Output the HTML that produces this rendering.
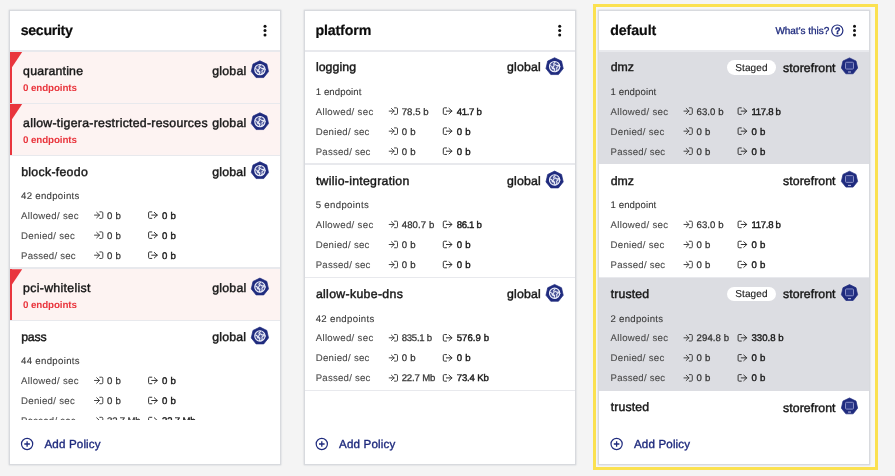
<!DOCTYPE html>
<html><head><meta charset="utf-8"><title>Policies</title>
<style>
*{box-sizing:border-box;margin:0;padding:0}
html,body{width:895px;height:476px;overflow:hidden;background:#f4f4f4;font-family:"Liberation Sans",sans-serif;text-rendering:geometricPrecision}
.t{position:absolute;white-space:nowrap;line-height:20px;height:20px}
.r{position:absolute}
.clip{position:absolute;left:0;top:51px;width:895px;height:369.30px;overflow:hidden}
.clip .in{position:absolute;left:0;top:-51px;width:895px;height:476px}
svg{position:absolute;left:0;top:0}
.gl{will-change:transform}
.top{position:absolute;left:0;top:0;width:895px;height:476px}
</style></head><body>
<div class="r" style="left:593px;top:3.7px;width:285.3px;height:466px;border:3.4px solid #fbe150;background:#f7f7f7"></div>
<div class="r" style="left:10.00px;top:10.70px;width:270.00px;height:453.30px;background:#fff;box-shadow:0 0 0 1.3px #d8dade,0 0 2.5px 1px rgba(40,50,80,.09)"></div>
<div class="r" style="left:10.00px;top:50.20px;width:270.00px;height:1.4px;background:#e8e9ed"></div>
<div class="r" style="left:304.50px;top:10.70px;width:270.00px;height:453.30px;background:#fff;box-shadow:0 0 0 1.3px #d8dade,0 0 2.5px 1px rgba(40,50,80,.09)"></div>
<div class="r" style="left:304.50px;top:50.20px;width:270.00px;height:1.4px;background:#e8e9ed"></div>
<div class="r" style="left:599.00px;top:10.70px;width:270.00px;height:453.30px;background:#fff;box-shadow:0 0 0 1.3px #d8dade,0 0 2.5px 1px rgba(40,50,80,.09)"></div>
<div class="r" style="left:599.00px;top:50.20px;width:270.00px;height:1.4px;background:#e8e9ed"></div>
<div class="clip"><div class="in">
<div class="r" style="left:10.00px;top:51.90px;width:270.00px;height:50.80px;background:#fdf3f2;"></div>
<div class="r" style="left:10.00px;top:102.60px;width:270.00px;height:1.30px;background:#e8e9ed;"></div>
<div class="r" style="left:10.00px;top:51.90px;width:2.00px;height:50.80px;background:#e9353d;"></div>
<div class="r" style="left:10.00px;top:103.90px;width:270.00px;height:50.80px;background:#fdf3f2;"></div>
<div class="r" style="left:10.00px;top:154.60px;width:270.00px;height:1.30px;background:#e8e9ed;"></div>
<div class="r" style="left:10.00px;top:103.90px;width:2.00px;height:50.80px;background:#e9353d;"></div>
<div class="r" style="left:10.00px;top:267.25px;width:270.00px;height:1.40px;background:#e8e9ed;"></div>
<div class="r" style="left:10.00px;top:269.25px;width:270.00px;height:50.80px;background:#fdf3f2;"></div>
<div class="r" style="left:10.00px;top:319.95px;width:270.00px;height:1.30px;background:#e8e9ed;"></div>
<div class="r" style="left:10.00px;top:269.25px;width:2.00px;height:50.80px;background:#e9353d;"></div>
<div class="r" style="left:10.00px;top:432.60px;width:270.00px;height:1.40px;background:#e8e9ed;"></div>
<div class="r" style="left:304.50px;top:163.25px;width:270.00px;height:1.40px;background:#e8e9ed;"></div>
<div class="r" style="left:304.50px;top:276.60px;width:270.00px;height:1.40px;background:#e8e9ed;"></div>
<div class="r" style="left:304.50px;top:389.95px;width:270.00px;height:1.40px;background:#e8e9ed;"></div>
<div class="r" style="left:599.00px;top:51.50px;width:270.00px;height:112.75px;background:#dcdde2;"></div>
<div class="r" style="left:599.00px;top:276.60px;width:270.00px;height:1.40px;background:#e8e9ed;"></div>
<div class="r" style="left:599.00px;top:278.20px;width:270.00px;height:112.75px;background:#dcdde2;"></div>
<div style="position:absolute;left:727.00px;top:59.90px;width:48.6px;height:14.8px;border-radius:7.4px;background:#fff"></div>
<div style="position:absolute;left:727.00px;top:286.60px;width:48.6px;height:14.8px;border-radius:7.4px;background:#fff"></div>
</div></div>
<div class="clip gl"><div class="in">
<svg width="895" height="476" viewBox="0 0 895 476">
<polygon points="10.00,51.90 22.20,51.90 10.00,70.20" fill="#e9353d"/>
<polygon points="259.90,60.75 266.82,64.08 268.53,71.57 263.74,77.57 256.06,77.57 251.27,71.57 252.98,64.08" fill="#1f2b7e" stroke="#1f2b7e" stroke-width="0.7" stroke-linejoin="round"/><circle cx="259.90" cy="69.60" r="5.15" fill="rgba(255,255,255,0.18)" stroke="#eef0fa" stroke-width="1.1"/><path d="M260.50 65.00 l-1.6 1.8 l0.6 1.6 l-1.4 2.0 l1.8 1.4 l-0.4 2.4 M260.30 67.40 l1.8 1.2 l2.0 -0.4 l1.2 1.6 M263.50 69.40 l-1.6 1.4 l0.4 2.2 l-1.4 1.6 M255.50 68.60 l1.6 0.8 l0.6 2.0 l1.6 0.6" fill="none" stroke="#e6e9f7" stroke-width="1.05" stroke-linecap="round" stroke-linejoin="round"/>
<polygon points="10.00,103.90 22.20,103.90 10.00,122.20" fill="#e9353d"/>
<polygon points="259.90,112.75 266.82,116.08 268.53,123.57 263.74,129.57 256.06,129.57 251.27,123.57 252.98,116.08" fill="#1f2b7e" stroke="#1f2b7e" stroke-width="0.7" stroke-linejoin="round"/><circle cx="259.90" cy="121.60" r="5.15" fill="rgba(255,255,255,0.18)" stroke="#eef0fa" stroke-width="1.1"/><path d="M260.50 117.00 l-1.6 1.8 l0.6 1.6 l-1.4 2.0 l1.8 1.4 l-0.4 2.4 M260.30 119.40 l1.8 1.2 l2.0 -0.4 l1.2 1.6 M263.50 121.40 l-1.6 1.4 l0.4 2.2 l-1.4 1.6 M255.50 120.60 l1.6 0.8 l0.6 2.0 l1.6 0.6" fill="none" stroke="#e6e9f7" stroke-width="1.05" stroke-linecap="round" stroke-linejoin="round"/>
<polygon points="259.90,161.75 266.82,165.08 268.53,172.57 263.74,178.57 256.06,178.57 251.27,172.57 252.98,165.08" fill="#1f2b7e" stroke="#1f2b7e" stroke-width="0.7" stroke-linejoin="round"/><circle cx="259.90" cy="170.60" r="5.15" fill="rgba(255,255,255,0.18)" stroke="#eef0fa" stroke-width="1.1"/><path d="M260.50 166.00 l-1.6 1.8 l0.6 1.6 l-1.4 2.0 l1.8 1.4 l-0.4 2.4 M260.30 168.40 l1.8 1.2 l2.0 -0.4 l1.2 1.6 M263.50 170.40 l-1.6 1.4 l0.4 2.2 l-1.4 1.6 M255.50 169.60 l1.6 0.8 l0.6 2.0 l1.6 0.6" fill="none" stroke="#e6e9f7" stroke-width="1.05" stroke-linecap="round" stroke-linejoin="round"/>
<path d="M94.50 215.10 h5.0 M96.70 212.40 l2.8 2.7 l-2.8 2.7 M99.80 211.85 h2.0 q1 0 1 1 v4.5 q0 1 -1 1 h-2.0" fill="none" stroke="#444" stroke-width="1" stroke-linecap="round" stroke-linejoin="round"/>
<path d="M151.80 211.85 h-2.2 q-1 0 -1 1 v4.5 q0 1 1 1 h2.2 M151.70 215.10 h5.5 M154.30 212.35 l3.0 2.75 l-3.0 2.75" fill="none" stroke="#333" stroke-width="1" stroke-linecap="round" stroke-linejoin="round"/>
<path d="M94.50 235.15 h5.0 M96.70 232.45 l2.8 2.7 l-2.8 2.7 M99.80 231.90 h2.0 q1 0 1 1 v4.5 q0 1 -1 1 h-2.0" fill="none" stroke="#444" stroke-width="1" stroke-linecap="round" stroke-linejoin="round"/>
<path d="M151.80 231.90 h-2.2 q-1 0 -1 1 v4.5 q0 1 1 1 h2.2 M151.70 235.15 h5.5 M154.30 232.40 l3.0 2.75 l-3.0 2.75" fill="none" stroke="#333" stroke-width="1" stroke-linecap="round" stroke-linejoin="round"/>
<path d="M94.50 255.20 h5.0 M96.70 252.50 l2.8 2.7 l-2.8 2.7 M99.80 251.95 h2.0 q1 0 1 1 v4.5 q0 1 -1 1 h-2.0" fill="none" stroke="#444" stroke-width="1" stroke-linecap="round" stroke-linejoin="round"/>
<path d="M151.80 251.95 h-2.2 q-1 0 -1 1 v4.5 q0 1 1 1 h2.2 M151.70 255.20 h5.5 M154.30 252.45 l3.0 2.75 l-3.0 2.75" fill="none" stroke="#333" stroke-width="1" stroke-linecap="round" stroke-linejoin="round"/>
<polygon points="10.00,269.25 22.20,269.25 10.00,287.55" fill="#e9353d"/>
<polygon points="259.90,278.10 266.82,281.43 268.53,288.92 263.74,294.92 256.06,294.92 251.27,288.92 252.98,281.43" fill="#1f2b7e" stroke="#1f2b7e" stroke-width="0.7" stroke-linejoin="round"/><circle cx="259.90" cy="286.95" r="5.15" fill="rgba(255,255,255,0.18)" stroke="#eef0fa" stroke-width="1.1"/><path d="M260.50 282.35 l-1.6 1.8 l0.6 1.6 l-1.4 2.0 l1.8 1.4 l-0.4 2.4 M260.30 284.75 l1.8 1.2 l2.0 -0.4 l1.2 1.6 M263.50 286.75 l-1.6 1.4 l0.4 2.2 l-1.4 1.6 M255.50 285.95 l1.6 0.8 l0.6 2.0 l1.6 0.6" fill="none" stroke="#e6e9f7" stroke-width="1.05" stroke-linecap="round" stroke-linejoin="round"/>
<polygon points="259.90,327.10 266.82,330.43 268.53,337.92 263.74,343.92 256.06,343.92 251.27,337.92 252.98,330.43" fill="#1f2b7e" stroke="#1f2b7e" stroke-width="0.7" stroke-linejoin="round"/><circle cx="259.90" cy="335.95" r="5.15" fill="rgba(255,255,255,0.18)" stroke="#eef0fa" stroke-width="1.1"/><path d="M260.50 331.35 l-1.6 1.8 l0.6 1.6 l-1.4 2.0 l1.8 1.4 l-0.4 2.4 M260.30 333.75 l1.8 1.2 l2.0 -0.4 l1.2 1.6 M263.50 335.75 l-1.6 1.4 l0.4 2.2 l-1.4 1.6 M255.50 334.95 l1.6 0.8 l0.6 2.0 l1.6 0.6" fill="none" stroke="#e6e9f7" stroke-width="1.05" stroke-linecap="round" stroke-linejoin="round"/>
<path d="M94.50 380.45 h5.0 M96.70 377.75 l2.8 2.7 l-2.8 2.7 M99.80 377.20 h2.0 q1 0 1 1 v4.5 q0 1 -1 1 h-2.0" fill="none" stroke="#444" stroke-width="1" stroke-linecap="round" stroke-linejoin="round"/>
<path d="M151.80 377.20 h-2.2 q-1 0 -1 1 v4.5 q0 1 1 1 h2.2 M151.70 380.45 h5.5 M154.30 377.70 l3.0 2.75 l-3.0 2.75" fill="none" stroke="#333" stroke-width="1" stroke-linecap="round" stroke-linejoin="round"/>
<path d="M94.50 400.50 h5.0 M96.70 397.80 l2.8 2.7 l-2.8 2.7 M99.80 397.25 h2.0 q1 0 1 1 v4.5 q0 1 -1 1 h-2.0" fill="none" stroke="#444" stroke-width="1" stroke-linecap="round" stroke-linejoin="round"/>
<path d="M151.80 397.25 h-2.2 q-1 0 -1 1 v4.5 q0 1 1 1 h2.2 M151.70 400.50 h5.5 M154.30 397.75 l3.0 2.75 l-3.0 2.75" fill="none" stroke="#333" stroke-width="1" stroke-linecap="round" stroke-linejoin="round"/>
<path d="M94.50 420.55 h5.0 M96.70 417.85 l2.8 2.7 l-2.8 2.7 M99.80 417.30 h2.0 q1 0 1 1 v4.5 q0 1 -1 1 h-2.0" fill="none" stroke="#444" stroke-width="1" stroke-linecap="round" stroke-linejoin="round"/>
<path d="M151.80 417.30 h-2.2 q-1 0 -1 1 v4.5 q0 1 1 1 h2.2 M151.70 420.55 h5.5 M154.30 417.80 l3.0 2.75 l-3.0 2.75" fill="none" stroke="#333" stroke-width="1" stroke-linecap="round" stroke-linejoin="round"/>
<polygon points="554.60,57.75 561.52,61.08 563.23,68.57 558.44,74.57 550.76,74.57 545.97,68.57 547.68,61.08" fill="#1f2b7e" stroke="#1f2b7e" stroke-width="0.7" stroke-linejoin="round"/><circle cx="554.60" cy="66.60" r="5.15" fill="rgba(255,255,255,0.18)" stroke="#eef0fa" stroke-width="1.1"/><path d="M555.20 62.00 l-1.6 1.8 l0.6 1.6 l-1.4 2.0 l1.8 1.4 l-0.4 2.4 M555.00 64.40 l1.8 1.2 l2.0 -0.4 l1.2 1.6 M558.20 66.40 l-1.6 1.4 l0.4 2.2 l-1.4 1.6 M550.20 65.60 l1.6 0.8 l0.6 2.0 l1.6 0.6" fill="none" stroke="#e6e9f7" stroke-width="1.05" stroke-linecap="round" stroke-linejoin="round"/>
<path d="M389.20 111.10 h5.0 M391.40 108.40 l2.8 2.7 l-2.8 2.7 M394.50 107.85 h2.0 q1 0 1 1 v4.5 q0 1 -1 1 h-2.0" fill="none" stroke="#444" stroke-width="1" stroke-linecap="round" stroke-linejoin="round"/>
<path d="M446.50 107.85 h-2.2 q-1 0 -1 1 v4.5 q0 1 1 1 h2.2 M446.40 111.10 h5.5 M449.00 108.35 l3.0 2.75 l-3.0 2.75" fill="none" stroke="#333" stroke-width="1" stroke-linecap="round" stroke-linejoin="round"/>
<path d="M389.20 131.15 h5.0 M391.40 128.45 l2.8 2.7 l-2.8 2.7 M394.50 127.90 h2.0 q1 0 1 1 v4.5 q0 1 -1 1 h-2.0" fill="none" stroke="#444" stroke-width="1" stroke-linecap="round" stroke-linejoin="round"/>
<path d="M446.50 127.90 h-2.2 q-1 0 -1 1 v4.5 q0 1 1 1 h2.2 M446.40 131.15 h5.5 M449.00 128.40 l3.0 2.75 l-3.0 2.75" fill="none" stroke="#333" stroke-width="1" stroke-linecap="round" stroke-linejoin="round"/>
<path d="M389.20 151.20 h5.0 M391.40 148.50 l2.8 2.7 l-2.8 2.7 M394.50 147.95 h2.0 q1 0 1 1 v4.5 q0 1 -1 1 h-2.0" fill="none" stroke="#444" stroke-width="1" stroke-linecap="round" stroke-linejoin="round"/>
<path d="M446.50 147.95 h-2.2 q-1 0 -1 1 v4.5 q0 1 1 1 h2.2 M446.40 151.20 h5.5 M449.00 148.45 l3.0 2.75 l-3.0 2.75" fill="none" stroke="#333" stroke-width="1" stroke-linecap="round" stroke-linejoin="round"/>
<polygon points="554.60,171.10 561.52,174.43 563.23,181.92 558.44,187.92 550.76,187.92 545.97,181.92 547.68,174.43" fill="#1f2b7e" stroke="#1f2b7e" stroke-width="0.7" stroke-linejoin="round"/><circle cx="554.60" cy="179.95" r="5.15" fill="rgba(255,255,255,0.18)" stroke="#eef0fa" stroke-width="1.1"/><path d="M555.20 175.35 l-1.6 1.8 l0.6 1.6 l-1.4 2.0 l1.8 1.4 l-0.4 2.4 M555.00 177.75 l1.8 1.2 l2.0 -0.4 l1.2 1.6 M558.20 179.75 l-1.6 1.4 l0.4 2.2 l-1.4 1.6 M550.20 178.95 l1.6 0.8 l0.6 2.0 l1.6 0.6" fill="none" stroke="#e6e9f7" stroke-width="1.05" stroke-linecap="round" stroke-linejoin="round"/>
<path d="M389.20 224.45 h5.0 M391.40 221.75 l2.8 2.7 l-2.8 2.7 M394.50 221.20 h2.0 q1 0 1 1 v4.5 q0 1 -1 1 h-2.0" fill="none" stroke="#444" stroke-width="1" stroke-linecap="round" stroke-linejoin="round"/>
<path d="M446.50 221.20 h-2.2 q-1 0 -1 1 v4.5 q0 1 1 1 h2.2 M446.40 224.45 h5.5 M449.00 221.70 l3.0 2.75 l-3.0 2.75" fill="none" stroke="#333" stroke-width="1" stroke-linecap="round" stroke-linejoin="round"/>
<path d="M389.20 244.50 h5.0 M391.40 241.80 l2.8 2.7 l-2.8 2.7 M394.50 241.25 h2.0 q1 0 1 1 v4.5 q0 1 -1 1 h-2.0" fill="none" stroke="#444" stroke-width="1" stroke-linecap="round" stroke-linejoin="round"/>
<path d="M446.50 241.25 h-2.2 q-1 0 -1 1 v4.5 q0 1 1 1 h2.2 M446.40 244.50 h5.5 M449.00 241.75 l3.0 2.75 l-3.0 2.75" fill="none" stroke="#333" stroke-width="1" stroke-linecap="round" stroke-linejoin="round"/>
<path d="M389.20 264.55 h5.0 M391.40 261.85 l2.8 2.7 l-2.8 2.7 M394.50 261.30 h2.0 q1 0 1 1 v4.5 q0 1 -1 1 h-2.0" fill="none" stroke="#444" stroke-width="1" stroke-linecap="round" stroke-linejoin="round"/>
<path d="M446.50 261.30 h-2.2 q-1 0 -1 1 v4.5 q0 1 1 1 h2.2 M446.40 264.55 h5.5 M449.00 261.80 l3.0 2.75 l-3.0 2.75" fill="none" stroke="#333" stroke-width="1" stroke-linecap="round" stroke-linejoin="round"/>
<polygon points="554.60,284.45 561.52,287.78 563.23,295.27 558.44,301.27 550.76,301.27 545.97,295.27 547.68,287.78" fill="#1f2b7e" stroke="#1f2b7e" stroke-width="0.7" stroke-linejoin="round"/><circle cx="554.60" cy="293.30" r="5.15" fill="rgba(255,255,255,0.18)" stroke="#eef0fa" stroke-width="1.1"/><path d="M555.20 288.70 l-1.6 1.8 l0.6 1.6 l-1.4 2.0 l1.8 1.4 l-0.4 2.4 M555.00 291.10 l1.8 1.2 l2.0 -0.4 l1.2 1.6 M558.20 293.10 l-1.6 1.4 l0.4 2.2 l-1.4 1.6 M550.20 292.30 l1.6 0.8 l0.6 2.0 l1.6 0.6" fill="none" stroke="#e6e9f7" stroke-width="1.05" stroke-linecap="round" stroke-linejoin="round"/>
<path d="M389.20 337.80 h5.0 M391.40 335.10 l2.8 2.7 l-2.8 2.7 M394.50 334.55 h2.0 q1 0 1 1 v4.5 q0 1 -1 1 h-2.0" fill="none" stroke="#444" stroke-width="1" stroke-linecap="round" stroke-linejoin="round"/>
<path d="M446.50 334.55 h-2.2 q-1 0 -1 1 v4.5 q0 1 1 1 h2.2 M446.40 337.80 h5.5 M449.00 335.05 l3.0 2.75 l-3.0 2.75" fill="none" stroke="#333" stroke-width="1" stroke-linecap="round" stroke-linejoin="round"/>
<path d="M389.20 357.85 h5.0 M391.40 355.15 l2.8 2.7 l-2.8 2.7 M394.50 354.60 h2.0 q1 0 1 1 v4.5 q0 1 -1 1 h-2.0" fill="none" stroke="#444" stroke-width="1" stroke-linecap="round" stroke-linejoin="round"/>
<path d="M446.50 354.60 h-2.2 q-1 0 -1 1 v4.5 q0 1 1 1 h2.2 M446.40 357.85 h5.5 M449.00 355.10 l3.0 2.75 l-3.0 2.75" fill="none" stroke="#333" stroke-width="1" stroke-linecap="round" stroke-linejoin="round"/>
<path d="M389.20 377.90 h5.0 M391.40 375.20 l2.8 2.7 l-2.8 2.7 M394.50 374.65 h2.0 q1 0 1 1 v4.5 q0 1 -1 1 h-2.0" fill="none" stroke="#444" stroke-width="1" stroke-linecap="round" stroke-linejoin="round"/>
<path d="M446.50 374.65 h-2.2 q-1 0 -1 1 v4.5 q0 1 1 1 h2.2 M446.40 377.90 h5.5 M449.00 375.15 l3.0 2.75 l-3.0 2.75" fill="none" stroke="#333" stroke-width="1" stroke-linecap="round" stroke-linejoin="round"/>
<polygon points="849.50,57.90 856.03,61.04 857.64,68.11 853.12,73.77 845.88,73.77 841.36,68.11 842.97,61.04" fill="#1f2b7e" stroke="#1f2b7e" stroke-width="0.7" stroke-linejoin="round"/><rect x="845.50" y="62.25" width="8" height="6.8" rx="1" fill="#2c398a" stroke="#8a90c6" stroke-width="1"/><rect x="848.00" y="71.55" width="3" height="0.9" fill="#cfd3ee"/>
<path d="M684.00 111.10 h5.0 M686.20 108.40 l2.8 2.7 l-2.8 2.7 M689.30 107.85 h2.0 q1 0 1 1 v4.5 q0 1 -1 1 h-2.0" fill="none" stroke="#444" stroke-width="1" stroke-linecap="round" stroke-linejoin="round"/>
<path d="M741.30 107.85 h-2.2 q-1 0 -1 1 v4.5 q0 1 1 1 h2.2 M741.20 111.10 h5.5 M743.80 108.35 l3.0 2.75 l-3.0 2.75" fill="none" stroke="#333" stroke-width="1" stroke-linecap="round" stroke-linejoin="round"/>
<path d="M684.00 131.15 h5.0 M686.20 128.45 l2.8 2.7 l-2.8 2.7 M689.30 127.90 h2.0 q1 0 1 1 v4.5 q0 1 -1 1 h-2.0" fill="none" stroke="#444" stroke-width="1" stroke-linecap="round" stroke-linejoin="round"/>
<path d="M741.30 127.90 h-2.2 q-1 0 -1 1 v4.5 q0 1 1 1 h2.2 M741.20 131.15 h5.5 M743.80 128.40 l3.0 2.75 l-3.0 2.75" fill="none" stroke="#333" stroke-width="1" stroke-linecap="round" stroke-linejoin="round"/>
<path d="M684.00 151.20 h5.0 M686.20 148.50 l2.8 2.7 l-2.8 2.7 M689.30 147.95 h2.0 q1 0 1 1 v4.5 q0 1 -1 1 h-2.0" fill="none" stroke="#444" stroke-width="1" stroke-linecap="round" stroke-linejoin="round"/>
<path d="M741.30 147.95 h-2.2 q-1 0 -1 1 v4.5 q0 1 1 1 h2.2 M741.20 151.20 h5.5 M743.80 148.45 l3.0 2.75 l-3.0 2.75" fill="none" stroke="#333" stroke-width="1" stroke-linecap="round" stroke-linejoin="round"/>
<polygon points="849.50,171.25 856.03,174.39 857.64,181.46 853.12,187.12 845.88,187.12 841.36,181.46 842.97,174.39" fill="#1f2b7e" stroke="#1f2b7e" stroke-width="0.7" stroke-linejoin="round"/><rect x="845.50" y="175.60" width="8" height="6.8" rx="1" fill="#2c398a" stroke="#8a90c6" stroke-width="1"/><rect x="848.00" y="184.90" width="3" height="0.9" fill="#cfd3ee"/>
<path d="M684.00 224.45 h5.0 M686.20 221.75 l2.8 2.7 l-2.8 2.7 M689.30 221.20 h2.0 q1 0 1 1 v4.5 q0 1 -1 1 h-2.0" fill="none" stroke="#444" stroke-width="1" stroke-linecap="round" stroke-linejoin="round"/>
<path d="M741.30 221.20 h-2.2 q-1 0 -1 1 v4.5 q0 1 1 1 h2.2 M741.20 224.45 h5.5 M743.80 221.70 l3.0 2.75 l-3.0 2.75" fill="none" stroke="#333" stroke-width="1" stroke-linecap="round" stroke-linejoin="round"/>
<path d="M684.00 244.50 h5.0 M686.20 241.80 l2.8 2.7 l-2.8 2.7 M689.30 241.25 h2.0 q1 0 1 1 v4.5 q0 1 -1 1 h-2.0" fill="none" stroke="#444" stroke-width="1" stroke-linecap="round" stroke-linejoin="round"/>
<path d="M741.30 241.25 h-2.2 q-1 0 -1 1 v4.5 q0 1 1 1 h2.2 M741.20 244.50 h5.5 M743.80 241.75 l3.0 2.75 l-3.0 2.75" fill="none" stroke="#333" stroke-width="1" stroke-linecap="round" stroke-linejoin="round"/>
<path d="M684.00 264.55 h5.0 M686.20 261.85 l2.8 2.7 l-2.8 2.7 M689.30 261.30 h2.0 q1 0 1 1 v4.5 q0 1 -1 1 h-2.0" fill="none" stroke="#444" stroke-width="1" stroke-linecap="round" stroke-linejoin="round"/>
<path d="M741.30 261.30 h-2.2 q-1 0 -1 1 v4.5 q0 1 1 1 h2.2 M741.20 264.55 h5.5 M743.80 261.80 l3.0 2.75 l-3.0 2.75" fill="none" stroke="#333" stroke-width="1" stroke-linecap="round" stroke-linejoin="round"/>
<polygon points="849.50,284.60 856.03,287.74 857.64,294.81 853.12,300.47 845.88,300.47 841.36,294.81 842.97,287.74" fill="#1f2b7e" stroke="#1f2b7e" stroke-width="0.7" stroke-linejoin="round"/><rect x="845.50" y="288.95" width="8" height="6.8" rx="1" fill="#2c398a" stroke="#8a90c6" stroke-width="1"/><rect x="848.00" y="298.25" width="3" height="0.9" fill="#cfd3ee"/>
<path d="M684.00 337.80 h5.0 M686.20 335.10 l2.8 2.7 l-2.8 2.7 M689.30 334.55 h2.0 q1 0 1 1 v4.5 q0 1 -1 1 h-2.0" fill="none" stroke="#444" stroke-width="1" stroke-linecap="round" stroke-linejoin="round"/>
<path d="M741.30 334.55 h-2.2 q-1 0 -1 1 v4.5 q0 1 1 1 h2.2 M741.20 337.80 h5.5 M743.80 335.05 l3.0 2.75 l-3.0 2.75" fill="none" stroke="#333" stroke-width="1" stroke-linecap="round" stroke-linejoin="round"/>
<path d="M684.00 357.85 h5.0 M686.20 355.15 l2.8 2.7 l-2.8 2.7 M689.30 354.60 h2.0 q1 0 1 1 v4.5 q0 1 -1 1 h-2.0" fill="none" stroke="#444" stroke-width="1" stroke-linecap="round" stroke-linejoin="round"/>
<path d="M741.30 354.60 h-2.2 q-1 0 -1 1 v4.5 q0 1 1 1 h2.2 M741.20 357.85 h5.5 M743.80 355.10 l3.0 2.75 l-3.0 2.75" fill="none" stroke="#333" stroke-width="1" stroke-linecap="round" stroke-linejoin="round"/>
<path d="M684.00 377.90 h5.0 M686.20 375.20 l2.8 2.7 l-2.8 2.7 M689.30 374.65 h2.0 q1 0 1 1 v4.5 q0 1 -1 1 h-2.0" fill="none" stroke="#444" stroke-width="1" stroke-linecap="round" stroke-linejoin="round"/>
<path d="M741.30 374.65 h-2.2 q-1 0 -1 1 v4.5 q0 1 1 1 h2.2 M741.20 377.90 h5.5 M743.80 375.15 l3.0 2.75 l-3.0 2.75" fill="none" stroke="#333" stroke-width="1" stroke-linecap="round" stroke-linejoin="round"/>
<polygon points="849.50,397.95 856.03,401.09 857.64,408.16 853.12,413.82 845.88,413.82 841.36,408.16 842.97,401.09" fill="#1f2b7e" stroke="#1f2b7e" stroke-width="0.7" stroke-linejoin="round"/><rect x="845.50" y="402.30" width="8" height="6.8" rx="1" fill="#2c398a" stroke="#8a90c6" stroke-width="1"/><rect x="848.00" y="411.60" width="3" height="0.9" fill="#cfd3ee"/>
</svg>
<span class="t" id="t0" style="left:23.10px;top:61.00px;font-size:12.30px;color:#151515;-webkit-text-stroke:0.40px #151515;letter-spacing:0.197px;">quarantine</span>
<span class="t" id="t1" style="left:212.30px;top:61.00px;font-size:12.30px;color:#151515;-webkit-text-stroke:0.40px #151515;letter-spacing:0.213px;">global</span>
<span class="t" id="t2" style="left:23.10px;top:79.00px;font-size:9.80px;color:#e9353d;font-weight:bold;letter-spacing:-0.113px;">0 endpoints</span>
<span class="t" id="t3" style="left:23.10px;top:113.00px;font-size:12.30px;color:#151515;-webkit-text-stroke:0.40px #151515;letter-spacing:0.276px;">allow-tigera-restricted-resources</span>
<span class="t" id="t4" style="left:212.30px;top:113.00px;font-size:12.30px;color:#151515;-webkit-text-stroke:0.40px #151515;letter-spacing:0.213px;">global</span>
<span class="t" id="t5" style="left:23.10px;top:131.00px;font-size:9.80px;color:#e9353d;font-weight:bold;letter-spacing:-0.113px;">0 endpoints</span>
<span class="t" id="t6" style="left:21.20px;top:162.00px;font-size:12.30px;color:#151515;-webkit-text-stroke:0.40px #151515;letter-spacing:0.297px;">block-feodo</span>
<span class="t" id="t7" style="left:212.20px;top:162.00px;font-size:12.30px;color:#151515;-webkit-text-stroke:0.40px #151515;letter-spacing:0.213px;">global</span>
<span class="t" id="t8" style="left:21.00px;top:187.00px;font-size:9.60px;color:#3a3a3a;-webkit-text-stroke:0.10px #3a3a3a;letter-spacing:0.308px;">42 endpoints</span>
<span class="t" id="t9" style="left:21.00px;top:207.00px;font-size:9.60px;color:#4a4a4a;-webkit-text-stroke:0.10px #4a4a4a;letter-spacing:0.334px;">Allowed/ sec</span>
<span class="t" id="t10" style="left:107.00px;top:207.00px;font-size:9.60px;color:#333;-webkit-text-stroke:0.25px #333;letter-spacing:0.263px;">0 b</span>
<span class="t" id="t11" style="left:162.00px;top:207.00px;font-size:9.60px;color:#1a1a1a;-webkit-text-stroke:0.40px #1a1a1a;letter-spacing:0.223px;">0 b</span>
<span class="t" id="t12" style="left:21.00px;top:227.00px;font-size:9.60px;color:#4a4a4a;-webkit-text-stroke:0.10px #4a4a4a;letter-spacing:0.307px;">Denied/ sec</span>
<span class="t" id="t13" style="left:107.00px;top:227.00px;font-size:9.60px;color:#333;-webkit-text-stroke:0.25px #333;letter-spacing:0.263px;">0 b</span>
<span class="t" id="t14" style="left:162.00px;top:227.00px;font-size:9.60px;color:#1a1a1a;-webkit-text-stroke:0.40px #1a1a1a;letter-spacing:0.223px;">0 b</span>
<span class="t" id="t15" style="left:21.00px;top:247.00px;font-size:9.60px;color:#4a4a4a;-webkit-text-stroke:0.10px #4a4a4a;letter-spacing:0.241px;">Passed/ sec</span>
<span class="t" id="t16" style="left:107.00px;top:247.00px;font-size:9.60px;color:#333;-webkit-text-stroke:0.25px #333;letter-spacing:0.263px;">0 b</span>
<span class="t" id="t17" style="left:162.00px;top:247.00px;font-size:9.60px;color:#1a1a1a;-webkit-text-stroke:0.40px #1a1a1a;letter-spacing:0.223px;">0 b</span>
<span class="t" id="t18" style="left:23.10px;top:278.00px;font-size:12.30px;color:#151515;-webkit-text-stroke:0.40px #151515;letter-spacing:0.307px;">pci-whitelist</span>
<span class="t" id="t19" style="left:212.30px;top:278.00px;font-size:12.30px;color:#151515;-webkit-text-stroke:0.40px #151515;letter-spacing:0.213px;">global</span>
<span class="t" id="t20" style="left:23.10px;top:296.00px;font-size:9.80px;color:#e9353d;font-weight:bold;letter-spacing:-0.113px;">0 endpoints</span>
<span class="t" id="t21" style="left:21.20px;top:327.00px;font-size:12.30px;color:#151515;-webkit-text-stroke:0.40px #151515;letter-spacing:-0.196px;">pass</span>
<span class="t" id="t22" style="left:212.20px;top:327.00px;font-size:12.30px;color:#151515;-webkit-text-stroke:0.40px #151515;letter-spacing:0.213px;">global</span>
<span class="t" id="t23" style="left:21.00px;top:352.00px;font-size:9.60px;color:#3a3a3a;-webkit-text-stroke:0.10px #3a3a3a;letter-spacing:0.335px;">44 endpoints</span>
<span class="t" id="t24" style="left:21.00px;top:372.00px;font-size:9.60px;color:#4a4a4a;-webkit-text-stroke:0.10px #4a4a4a;letter-spacing:0.334px;">Allowed/ sec</span>
<span class="t" id="t25" style="left:107.00px;top:372.00px;font-size:9.60px;color:#333;-webkit-text-stroke:0.25px #333;letter-spacing:0.263px;">0 b</span>
<span class="t" id="t26" style="left:162.00px;top:372.00px;font-size:9.60px;color:#1a1a1a;-webkit-text-stroke:0.40px #1a1a1a;letter-spacing:0.223px;">0 b</span>
<span class="t" id="t27" style="left:21.00px;top:392.00px;font-size:9.60px;color:#4a4a4a;-webkit-text-stroke:0.10px #4a4a4a;letter-spacing:0.307px;">Denied/ sec</span>
<span class="t" id="t28" style="left:107.00px;top:392.00px;font-size:9.60px;color:#333;-webkit-text-stroke:0.25px #333;letter-spacing:0.263px;">0 b</span>
<span class="t" id="t29" style="left:162.00px;top:392.00px;font-size:9.60px;color:#1a1a1a;-webkit-text-stroke:0.40px #1a1a1a;letter-spacing:0.223px;">0 b</span>
<span class="t" id="t30" style="left:21.00px;top:412.00px;font-size:9.60px;color:#4a4a4a;-webkit-text-stroke:0.10px #4a4a4a;letter-spacing:0.241px;">Passed/ sec</span>
<span class="t" id="t31" style="left:107.00px;top:412.00px;font-size:9.60px;color:#333;-webkit-text-stroke:0.25px #333;letter-spacing:-0.165px;">22.7 Mb</span>
<span class="t" id="t32" style="left:162.00px;top:412.00px;font-size:9.60px;color:#1a1a1a;-webkit-text-stroke:0.40px #1a1a1a;letter-spacing:-0.165px;">22.7 Mb</span>
<span class="t" id="t33" style="left:315.90px;top:57.00px;font-size:12.30px;color:#151515;-webkit-text-stroke:0.40px #151515;letter-spacing:0.081px;">logging</span>
<span class="t" id="t34" style="left:506.90px;top:57.00px;font-size:12.30px;color:#151515;-webkit-text-stroke:0.40px #151515;letter-spacing:0.213px;">global</span>
<span class="t" id="t35" style="left:315.70px;top:83.00px;font-size:9.60px;color:#3a3a3a;-webkit-text-stroke:0.10px #3a3a3a;letter-spacing:0.104px;">1 endpoint</span>
<span class="t" id="t36" style="left:315.70px;top:103.00px;font-size:9.60px;color:#4a4a4a;-webkit-text-stroke:0.10px #4a4a4a;letter-spacing:0.334px;">Allowed/ sec</span>
<span class="t" id="t37" style="left:401.70px;top:103.00px;font-size:9.60px;color:#333;-webkit-text-stroke:0.25px #333;letter-spacing:0.039px;">78.5 b</span>
<span class="t" id="t38" style="left:456.70px;top:103.00px;font-size:9.60px;color:#1a1a1a;-webkit-text-stroke:0.40px #1a1a1a;letter-spacing:-0.320px;">41.7 b</span>
<span class="t" id="t39" style="left:315.70px;top:123.00px;font-size:9.60px;color:#4a4a4a;-webkit-text-stroke:0.10px #4a4a4a;letter-spacing:0.307px;">Denied/ sec</span>
<span class="t" id="t40" style="left:401.70px;top:123.00px;font-size:9.60px;color:#333;-webkit-text-stroke:0.25px #333;letter-spacing:0.263px;">0 b</span>
<span class="t" id="t41" style="left:456.70px;top:123.00px;font-size:9.60px;color:#1a1a1a;-webkit-text-stroke:0.40px #1a1a1a;letter-spacing:0.223px;">0 b</span>
<span class="t" id="t42" style="left:315.70px;top:143.00px;font-size:9.60px;color:#4a4a4a;-webkit-text-stroke:0.10px #4a4a4a;letter-spacing:0.241px;">Passed/ sec</span>
<span class="t" id="t43" style="left:401.70px;top:143.00px;font-size:9.60px;color:#333;-webkit-text-stroke:0.25px #333;letter-spacing:0.263px;">0 b</span>
<span class="t" id="t44" style="left:456.70px;top:143.00px;font-size:9.60px;color:#1a1a1a;-webkit-text-stroke:0.40px #1a1a1a;letter-spacing:0.223px;">0 b</span>
<span class="t" id="t45" style="left:315.90px;top:171.00px;font-size:12.30px;color:#151515;-webkit-text-stroke:0.40px #151515;letter-spacing:0.265px;">twilio-integration</span>
<span class="t" id="t46" style="left:506.90px;top:171.00px;font-size:12.30px;color:#151515;-webkit-text-stroke:0.40px #151515;letter-spacing:0.213px;">global</span>
<span class="t" id="t47" style="left:315.70px;top:196.00px;font-size:9.60px;color:#3a3a3a;-webkit-text-stroke:0.10px #3a3a3a;letter-spacing:0.342px;">5 endpoints</span>
<span class="t" id="t48" style="left:315.70px;top:216.00px;font-size:9.60px;color:#4a4a4a;-webkit-text-stroke:0.10px #4a4a4a;letter-spacing:0.334px;">Allowed/ sec</span>
<span class="t" id="t49" style="left:401.70px;top:216.00px;font-size:9.60px;color:#333;-webkit-text-stroke:0.25px #333;letter-spacing:0.105px;">480.7 b</span>
<span class="t" id="t50" style="left:456.70px;top:216.00px;font-size:9.60px;color:#1a1a1a;-webkit-text-stroke:0.40px #1a1a1a;letter-spacing:-0.307px;">86.1 b</span>
<span class="t" id="t51" style="left:315.70px;top:236.00px;font-size:9.60px;color:#4a4a4a;-webkit-text-stroke:0.10px #4a4a4a;letter-spacing:0.307px;">Denied/ sec</span>
<span class="t" id="t52" style="left:401.70px;top:236.00px;font-size:9.60px;color:#333;-webkit-text-stroke:0.25px #333;letter-spacing:0.263px;">0 b</span>
<span class="t" id="t53" style="left:456.70px;top:236.00px;font-size:9.60px;color:#1a1a1a;-webkit-text-stroke:0.40px #1a1a1a;letter-spacing:0.223px;">0 b</span>
<span class="t" id="t54" style="left:315.70px;top:256.00px;font-size:9.60px;color:#4a4a4a;-webkit-text-stroke:0.10px #4a4a4a;letter-spacing:0.241px;">Passed/ sec</span>
<span class="t" id="t55" style="left:401.70px;top:256.00px;font-size:9.60px;color:#333;-webkit-text-stroke:0.25px #333;letter-spacing:0.263px;">0 b</span>
<span class="t" id="t56" style="left:456.70px;top:256.00px;font-size:9.60px;color:#1a1a1a;-webkit-text-stroke:0.40px #1a1a1a;letter-spacing:0.223px;">0 b</span>
<span class="t" id="t57" style="left:315.90px;top:284.00px;font-size:12.30px;color:#151515;-webkit-text-stroke:0.40px #151515;letter-spacing:0.325px;">allow-kube-dns</span>
<span class="t" id="t58" style="left:506.90px;top:284.00px;font-size:12.30px;color:#151515;-webkit-text-stroke:0.40px #151515;letter-spacing:0.213px;">global</span>
<span class="t" id="t59" style="left:315.70px;top:310.00px;font-size:9.60px;color:#3a3a3a;-webkit-text-stroke:0.10px #3a3a3a;letter-spacing:0.335px;">42 endpoints</span>
<span class="t" id="t60" style="left:315.70px;top:329.00px;font-size:9.60px;color:#4a4a4a;-webkit-text-stroke:0.10px #4a4a4a;letter-spacing:0.334px;">Allowed/ sec</span>
<span class="t" id="t61" style="left:401.70px;top:329.00px;font-size:9.60px;color:#333;-webkit-text-stroke:0.25px #333;letter-spacing:-0.249px;">835.1 b</span>
<span class="t" id="t62" style="left:456.70px;top:329.00px;font-size:9.60px;color:#1a1a1a;-webkit-text-stroke:0.40px #1a1a1a;letter-spacing:0.059px;">576.9 b</span>
<span class="t" id="t63" style="left:315.70px;top:349.00px;font-size:9.60px;color:#4a4a4a;-webkit-text-stroke:0.10px #4a4a4a;letter-spacing:0.307px;">Denied/ sec</span>
<span class="t" id="t64" style="left:401.70px;top:349.00px;font-size:9.60px;color:#333;-webkit-text-stroke:0.25px #333;letter-spacing:0.263px;">0 b</span>
<span class="t" id="t65" style="left:456.70px;top:349.00px;font-size:9.60px;color:#1a1a1a;-webkit-text-stroke:0.40px #1a1a1a;letter-spacing:0.223px;">0 b</span>
<span class="t" id="t66" style="left:315.70px;top:369.00px;font-size:9.60px;color:#4a4a4a;-webkit-text-stroke:0.10px #4a4a4a;letter-spacing:0.241px;">Passed/ sec</span>
<span class="t" id="t67" style="left:401.70px;top:369.00px;font-size:9.60px;color:#333;-webkit-text-stroke:0.25px #333;letter-spacing:-0.165px;">22.7 Mb</span>
<span class="t" id="t68" style="left:456.70px;top:369.00px;font-size:9.60px;color:#1a1a1a;-webkit-text-stroke:0.40px #1a1a1a;letter-spacing:-0.135px;">73.4 Kb</span>
<span class="t" id="t69" style="left:610.70px;top:57.00px;font-size:12.30px;color:#151515;-webkit-text-stroke:0.40px #151515;letter-spacing:-0.054px;">dmz</span>
<span class="t" id="t70" style="left:783.10px;top:58.00px;font-size:12.30px;color:#151515;-webkit-text-stroke:0.40px #151515;letter-spacing:0.047px;">storefront</span>
<span class="t" id="t71" style="left:735.30px;top:59.00px;font-size:10.00px;color:#222;-webkit-text-stroke:0.15px #222;letter-spacing:0.090px;">Staged</span>
<span class="t" id="t72" style="left:610.50px;top:83.00px;font-size:9.60px;color:#3a3a3a;-webkit-text-stroke:0.10px #3a3a3a;letter-spacing:0.104px;">1 endpoint</span>
<span class="t" id="t73" style="left:610.50px;top:103.00px;font-size:9.60px;color:#4a4a4a;-webkit-text-stroke:0.10px #4a4a4a;letter-spacing:0.334px;">Allowed/ sec</span>
<span class="t" id="t74" style="left:696.50px;top:103.00px;font-size:9.60px;color:#333;-webkit-text-stroke:0.25px #333;letter-spacing:0.075px;">63.0 b</span>
<span class="t" id="t75" style="left:751.50px;top:103.00px;font-size:9.60px;color:#1a1a1a;-webkit-text-stroke:0.40px #1a1a1a;letter-spacing:-0.320px;">117.8 b</span>
<span class="t" id="t76" style="left:610.50px;top:123.00px;font-size:9.60px;color:#4a4a4a;-webkit-text-stroke:0.10px #4a4a4a;letter-spacing:0.307px;">Denied/ sec</span>
<span class="t" id="t77" style="left:696.50px;top:123.00px;font-size:9.60px;color:#333;-webkit-text-stroke:0.25px #333;letter-spacing:0.263px;">0 b</span>
<span class="t" id="t78" style="left:751.50px;top:123.00px;font-size:9.60px;color:#1a1a1a;-webkit-text-stroke:0.40px #1a1a1a;letter-spacing:0.223px;">0 b</span>
<span class="t" id="t79" style="left:610.50px;top:143.00px;font-size:9.60px;color:#4a4a4a;-webkit-text-stroke:0.10px #4a4a4a;letter-spacing:0.241px;">Passed/ sec</span>
<span class="t" id="t80" style="left:696.50px;top:143.00px;font-size:9.60px;color:#333;-webkit-text-stroke:0.25px #333;letter-spacing:0.263px;">0 b</span>
<span class="t" id="t81" style="left:751.50px;top:143.00px;font-size:9.60px;color:#1a1a1a;-webkit-text-stroke:0.40px #1a1a1a;letter-spacing:0.223px;">0 b</span>
<span class="t" id="t82" style="left:610.70px;top:171.00px;font-size:12.30px;color:#151515;-webkit-text-stroke:0.40px #151515;letter-spacing:-0.054px;">dmz</span>
<span class="t" id="t83" style="left:783.10px;top:171.00px;font-size:12.30px;color:#151515;-webkit-text-stroke:0.40px #151515;letter-spacing:0.047px;">storefront</span>
<span class="t" id="t84" style="left:610.50px;top:196.00px;font-size:9.60px;color:#3a3a3a;-webkit-text-stroke:0.10px #3a3a3a;letter-spacing:0.104px;">1 endpoint</span>
<span class="t" id="t85" style="left:610.50px;top:216.00px;font-size:9.60px;color:#4a4a4a;-webkit-text-stroke:0.10px #4a4a4a;letter-spacing:0.334px;">Allowed/ sec</span>
<span class="t" id="t86" style="left:696.50px;top:216.00px;font-size:9.60px;color:#333;-webkit-text-stroke:0.25px #333;letter-spacing:0.075px;">63.0 b</span>
<span class="t" id="t87" style="left:751.50px;top:216.00px;font-size:9.60px;color:#1a1a1a;-webkit-text-stroke:0.40px #1a1a1a;letter-spacing:-0.320px;">117.8 b</span>
<span class="t" id="t88" style="left:610.50px;top:236.00px;font-size:9.60px;color:#4a4a4a;-webkit-text-stroke:0.10px #4a4a4a;letter-spacing:0.307px;">Denied/ sec</span>
<span class="t" id="t89" style="left:696.50px;top:236.00px;font-size:9.60px;color:#333;-webkit-text-stroke:0.25px #333;letter-spacing:0.263px;">0 b</span>
<span class="t" id="t90" style="left:751.50px;top:236.00px;font-size:9.60px;color:#1a1a1a;-webkit-text-stroke:0.40px #1a1a1a;letter-spacing:0.223px;">0 b</span>
<span class="t" id="t91" style="left:610.50px;top:256.00px;font-size:9.60px;color:#4a4a4a;-webkit-text-stroke:0.10px #4a4a4a;letter-spacing:0.241px;">Passed/ sec</span>
<span class="t" id="t92" style="left:696.50px;top:256.00px;font-size:9.60px;color:#333;-webkit-text-stroke:0.25px #333;letter-spacing:0.263px;">0 b</span>
<span class="t" id="t93" style="left:751.50px;top:256.00px;font-size:9.60px;color:#1a1a1a;-webkit-text-stroke:0.40px #1a1a1a;letter-spacing:0.223px;">0 b</span>
<span class="t" id="t94" style="left:610.70px;top:284.00px;font-size:12.30px;color:#151515;-webkit-text-stroke:0.40px #151515;letter-spacing:0.139px;">trusted</span>
<span class="t" id="t95" style="left:783.10px;top:284.00px;font-size:12.30px;color:#151515;-webkit-text-stroke:0.40px #151515;letter-spacing:0.047px;">storefront</span>
<span class="t" id="t96" style="left:735.30px;top:285.00px;font-size:10.00px;color:#222;-webkit-text-stroke:0.15px #222;letter-spacing:0.090px;">Staged</span>
<span class="t" id="t97" style="left:610.50px;top:310.00px;font-size:9.60px;color:#3a3a3a;-webkit-text-stroke:0.10px #3a3a3a;letter-spacing:0.294px;">2 endpoints</span>
<span class="t" id="t98" style="left:610.50px;top:329.00px;font-size:9.60px;color:#4a4a4a;-webkit-text-stroke:0.10px #4a4a4a;letter-spacing:0.334px;">Allowed/ sec</span>
<span class="t" id="t99" style="left:696.50px;top:329.00px;font-size:9.60px;color:#333;-webkit-text-stroke:0.25px #333;letter-spacing:0.105px;">294.8 b</span>
<span class="t" id="t100" style="left:751.50px;top:329.00px;font-size:9.60px;color:#1a1a1a;-webkit-text-stroke:0.40px #1a1a1a;letter-spacing:0.028px;">330.8 b</span>
<span class="t" id="t101" style="left:610.50px;top:349.00px;font-size:9.60px;color:#4a4a4a;-webkit-text-stroke:0.10px #4a4a4a;letter-spacing:0.307px;">Denied/ sec</span>
<span class="t" id="t102" style="left:696.50px;top:349.00px;font-size:9.60px;color:#333;-webkit-text-stroke:0.25px #333;letter-spacing:0.263px;">0 b</span>
<span class="t" id="t103" style="left:751.50px;top:349.00px;font-size:9.60px;color:#1a1a1a;-webkit-text-stroke:0.40px #1a1a1a;letter-spacing:0.223px;">0 b</span>
<span class="t" id="t104" style="left:610.50px;top:369.00px;font-size:9.60px;color:#4a4a4a;-webkit-text-stroke:0.10px #4a4a4a;letter-spacing:0.241px;">Passed/ sec</span>
<span class="t" id="t105" style="left:696.50px;top:369.00px;font-size:9.60px;color:#333;-webkit-text-stroke:0.25px #333;letter-spacing:0.263px;">0 b</span>
<span class="t" id="t106" style="left:751.50px;top:369.00px;font-size:9.60px;color:#1a1a1a;-webkit-text-stroke:0.40px #1a1a1a;letter-spacing:0.223px;">0 b</span>
<span class="t" id="t107" style="left:610.70px;top:397.00px;font-size:12.30px;color:#151515;-webkit-text-stroke:0.40px #151515;letter-spacing:0.139px;">trusted</span>
<span class="t" id="t108" style="left:783.10px;top:398.00px;font-size:12.30px;color:#151515;-webkit-text-stroke:0.40px #151515;letter-spacing:0.047px;">storefront</span>
</div></div>
<div class="gl top">
<svg width="895" height="476" viewBox="0 0 895 476">
<circle cx="27.10" cy="444" r="5.6" fill="none" stroke="#1f2b7e" stroke-width="1.2"/><path d="M24.30 444 h5.6 M27.10 441.2 v5.6" stroke="#1f2b7e" stroke-width="1.3" fill="none"/>
<circle cx="265.00" cy="26.30" r="1.5" fill="#111"/>
<circle cx="265.00" cy="30.60" r="1.5" fill="#111"/>
<circle cx="265.00" cy="34.90" r="1.5" fill="#111"/>
<circle cx="321.80" cy="444" r="5.6" fill="none" stroke="#1f2b7e" stroke-width="1.2"/><path d="M319.00 444 h5.6 M321.80 441.2 v5.6" stroke="#1f2b7e" stroke-width="1.3" fill="none"/>
<circle cx="559.70" cy="26.30" r="1.5" fill="#111"/>
<circle cx="559.70" cy="30.60" r="1.5" fill="#111"/>
<circle cx="559.70" cy="34.90" r="1.5" fill="#111"/>
<circle cx="616.60" cy="444" r="5.6" fill="none" stroke="#1f2b7e" stroke-width="1.2"/><path d="M613.80 444 h5.6 M616.60 441.2 v5.6" stroke="#1f2b7e" stroke-width="1.3" fill="none"/>
<circle cx="854.50" cy="26.30" r="1.5" fill="#111"/>
<circle cx="854.50" cy="30.60" r="1.5" fill="#111"/>
<circle cx="854.50" cy="34.90" r="1.5" fill="#111"/>
<circle cx="837.3" cy="30.6" r="5.6" fill="none" stroke="#1f2b7e" stroke-width="1.2"/>
</svg>
<span class="t" id="t109" style="left:20.70px;top:21.00px;font-size:14.20px;color:#0c0c0c;font-weight:bold;-webkit-text-stroke:0.20px #0c0c0c;letter-spacing:-0.320px;">security</span>
<span class="t" id="t110" style="left:44.40px;top:435.00px;font-size:11.60px;color:#1f2b7e;-webkit-text-stroke:0.35px #1f2b7e;letter-spacing:0.160px;">Add Policy</span>
<span class="t" id="t111" style="left:315.40px;top:21.00px;font-size:14.20px;color:#0c0c0c;font-weight:bold;-webkit-text-stroke:0.20px #0c0c0c;letter-spacing:-0.127px;">platform</span>
<span class="t" id="t112" style="left:339.10px;top:435.00px;font-size:11.60px;color:#1f2b7e;-webkit-text-stroke:0.35px #1f2b7e;letter-spacing:0.160px;">Add Policy</span>
<span class="t" id="t113" style="left:610.20px;top:21.00px;font-size:14.20px;color:#0c0c0c;font-weight:bold;-webkit-text-stroke:0.20px #0c0c0c;letter-spacing:-0.064px;">default</span>
<span class="t" id="t114" style="left:633.90px;top:435.00px;font-size:11.60px;color:#1f2b7e;-webkit-text-stroke:0.35px #1f2b7e;letter-spacing:0.160px;">Add Policy</span>
<span class="t" id="t115" style="left:775.40px;top:22.00px;font-size:10.00px;color:#1f2b7e;-webkit-text-stroke:0.30px #1f2b7e;letter-spacing:-0.043px;">What’s this?</span>
<span class="t" id="t116" style="left:834.80px;top:22.00px;font-size:9.50px;color:#1f2b7e;font-weight:bold;-webkit-text-stroke:0.30px #1f2b7e;">?</span>
</div>
</body></html>
